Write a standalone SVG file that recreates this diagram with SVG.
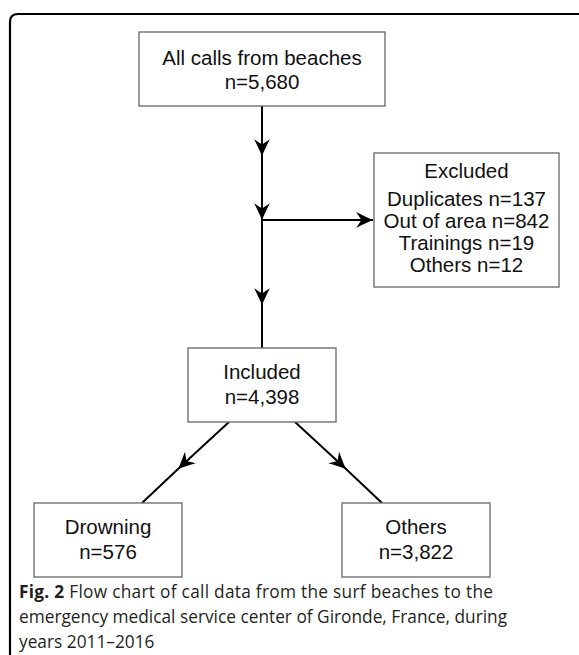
<svg xmlns="http://www.w3.org/2000/svg" width="579" height="655" viewBox="0 0 579 655">
<style>
.box{fill:#fff;stroke:#666;stroke-width:1.3}
.t{font-family:"Liberation Sans",Arial,sans-serif;font-size:20.5px;fill:#111;text-anchor:middle}
.c{fill:none;stroke:#000;stroke-width:2}
.cap{font-family:"Open Sans","Noto Sans",sans-serif;font-size:17.3px;fill:#231f20}
</style>
<defs>
<marker id="ah" markerUnits="userSpaceOnUse" markerWidth="20" markerHeight="20" viewBox="-17 -9 19 18" refX="0" refY="0" orient="auto">
<path d="M0,0 C-5,-2 -11,-5 -16,-7.5 L-11,0 L-16,7.5 C-11,5 -5,2 0,0 Z" fill="#000"/>
</marker>
</defs>
<rect width="579" height="655" fill="#fff"/>
<path d="M10,660 V22 Q10,14 18,14 H579" fill="none" stroke="#000" stroke-width="2.2"/>
<g id="connectors">
<polyline class="c" points="262,106 262,156 262,220 262,305 262,348" marker-mid="url(#ah)"/>
<line class="c" x1="262" y1="220" x2="373" y2="220" marker-end="url(#ah)"/>
<polyline class="c" points="229,422 178,469 142,503" marker-mid="url(#ah)"/>
<polyline class="c" points="295,422 346,469 382,503" marker-mid="url(#ah)"/>
</g>
<g id="all-calls">
<rect class="box" x="139" y="32" width="246" height="74"/>
<text class="t" x="262" y="65">All calls from beaches</text>
<text class="t" x="262" y="89">n=5,680</text>
</g>
<g id="excluded">
<rect class="box" x="374" y="153" width="185" height="134"/>
<text class="t" x="466.5" y="178">Excluded</text>
<text class="t" x="466.5" y="206">Duplicates n=137</text>
<text class="t" x="466.5" y="228">Out of area n=842</text>
<text class="t" x="466.5" y="250">Trainings n=19</text>
<text class="t" x="466.5" y="272">Others n=12</text>
</g>
<g id="included">
<rect class="box" x="188" y="348" width="148" height="74"/>
<text class="t" x="262" y="379">Included</text>
<text class="t" x="262" y="404">n=4,398</text>
</g>
<g id="drowning">
<rect class="box" x="34" y="503" width="148" height="74"/>
<text class="t" x="108" y="534">Drowning</text>
<text class="t" x="108" y="559">n=576</text>
</g>
<g id="others">
<rect class="box" x="342" y="503" width="148" height="74"/>
<text class="t" x="416" y="534">Others</text>
<text class="t" x="416" y="559">n=3,822</text>
</g>
<g id="caption">
<text class="cap" x="19" y="598" textLength="474" lengthAdjust="spacing"><tspan font-weight="bold">Fig. 2</tspan> Flow chart of call data from the surf beaches to the</text>
<text class="cap" x="19" y="623">emergency medical service center of Gironde, France, during</text>
<text class="cap" x="19" y="648">years 2011–2016</text>
</g>
</svg>
